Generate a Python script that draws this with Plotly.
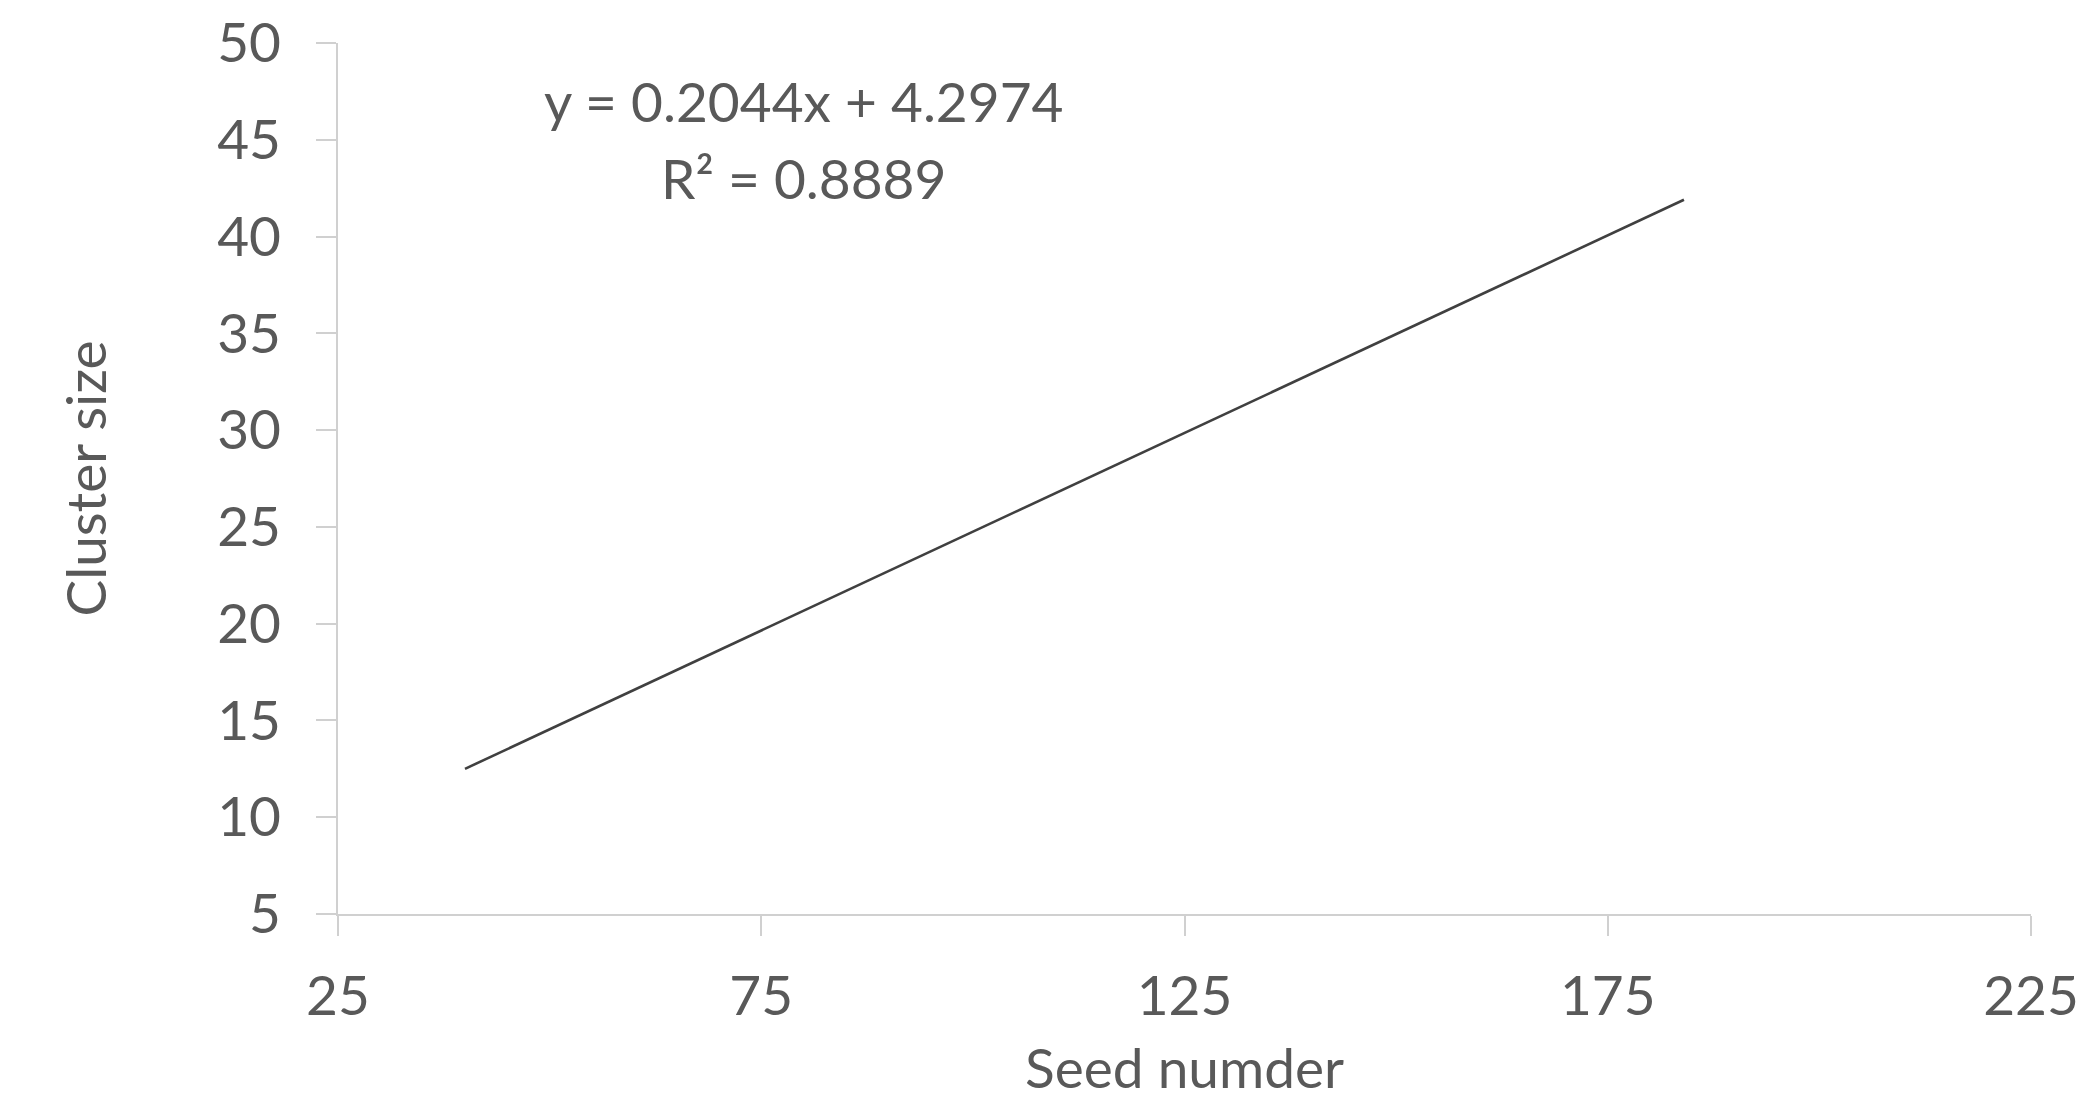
import plotly.graph_objects as go

# Trendline endpoints (seed number, cluster size)
seed_number = [40, 184]
cluster_size = [12.5, 41.9]

x_ticks = [25, 75, 125, 175, 225]
y_ticks = [5, 10, 15, 20, 25, 30, 35, 40, 45, 50]

eq_text = "y = 0.2044x + 4.2974"
r2_text = "R² = 0.8889"
x_title = "Seed numder"
y_title = "Cluster size"

FONT = "Lato"
TXT = "#595959"
AX = "#d0d0d0"
FS = 55

fig = go.Figure()
fig.add_trace(go.Scatter(
    x=seed_number, y=cluster_size, mode="lines",
    line=dict(color="#404040", width=2.6), showlegend=False, hoverinfo="skip"))

fig.add_annotation(x=80, y=47.0, text=eq_text, showarrow=False,
                   xanchor="center", yanchor="middle",
                   font=dict(family=FONT, size=FS, color=TXT))
fig.add_annotation(x=80, y=43.05, text=r2_text, showarrow=False,
                   xanchor="center", yanchor="middle",
                   font=dict(family=FONT, size=FS, color=TXT))
# x-axis title placed below the tick labels
fig.add_annotation(x=0.5, y=0, xref="paper", yref="paper", text=x_title,
                   showarrow=False, xanchor="center", yanchor="middle", yshift=-153,
                   font=dict(family=FONT, size=FS, color=TXT))

fig.update_layout(
    width=2086, height=1097,
    margin=dict(l=338, r=55, t=43, b=183),
    paper_bgcolor="white", plot_bgcolor="white",
    font=dict(family=FONT, size=FS, color=TXT),
    xaxis=dict(range=[25, 225], tickvals=x_ticks, ticktext=[str(v) for v in x_ticks],
               automargin=False,
               showline=True, linecolor=AX, linewidth=2, ticks="outside",
               ticklen=20, tickwidth=2, tickcolor=AX, showgrid=False, zeroline=False,
               ticklabelstandoff=13),
    yaxis=dict(range=[5, 50], tickvals=y_ticks, ticktext=[str(v) for v in y_ticks],
               automargin=False,
               showline=True, linecolor=AX, linewidth=2, ticks="outside",
               ticklen=20, tickwidth=2, tickcolor=AX, showgrid=False, zeroline=False,
               ticklabelstandoff=24,
               title=dict(text=y_title, standoff=93,
                          font=dict(family=FONT, size=FS, color=TXT))),
)

fig.write_html("out.html")
